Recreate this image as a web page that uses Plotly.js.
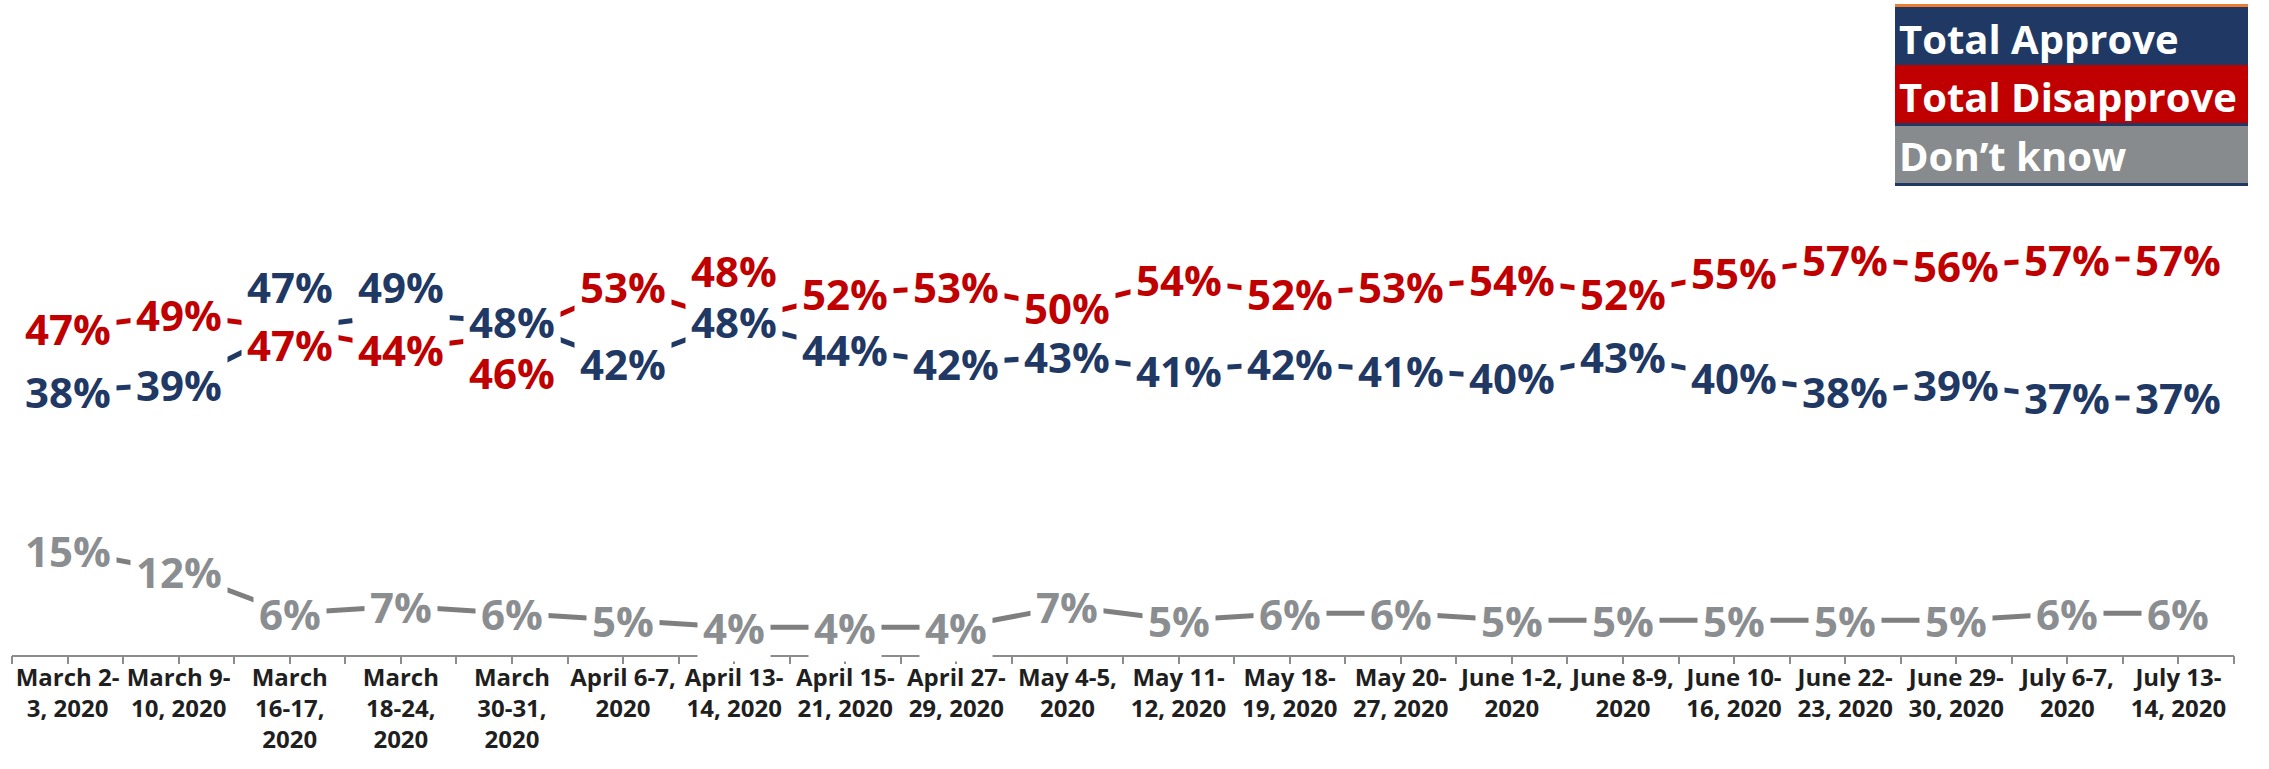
<!DOCTYPE html>
<html>
<head>
<meta charset="utf-8">
<script src="https://cdn.plot.ly/plotly-3.0.1.min.js"></script>
<style>html,body{margin:0;padding:0;background:#fff;}#chart{width:2269px;height:769px;}</style>
</head>
<body>
<div id="chart"></div>
<script>
const categories = ["March 2-3, 2020","March 9-10, 2020","March 16-17, 2020","March 18-24, 2020","March 30-31, 2020","April 6-7, 2020","April 13-14, 2020","April 15-21, 2020","April 27-29, 2020","May 4-5, 2020","May 11-12, 2020","May 18-19, 2020","May 20-27, 2020","June 1-2, 2020","June 8-9, 2020","June 10-16, 2020","June 22-23, 2020","June 29-30, 2020","July 6-7, 2020","July 13-14, 2020"];
const tickLabels = ["March 2-<br>3, 2020","March 9-<br>10, 2020","March<br>16-17,<br>2020","March<br>18-24,<br>2020","March<br>30-31,<br>2020","April 6-7,<br>2020","April 13-<br>14, 2020","April 15-<br>21, 2020","April 27-<br>29, 2020","May 4-5,<br>2020","May 11-<br>12, 2020","May 18-<br>19, 2020","May 20-<br>27, 2020","June 1-2,<br>2020","June 8-9,<br>2020","June 10-<br>16, 2020","June 22-<br>23, 2020","June 29-<br>30, 2020","July 6-7,<br>2020","July 13-<br>14, 2020"];
const approve    = [38,39,47,49,48,42,48,44,42,43,41,42,41,40,43,40,38,39,37,37];
const disapprove = [47,49,47,44,46,53,48,52,53,50,54,52,53,54,52,55,57,56,57,57];
const dontKnow   = [15,12,6,7,6,5,4,4,4,7,5,6,6,5,5,5,5,5,6,6];
const seriesNames = ["Total Approve","Total Disapprove","Don\u2019t know"];

// styling
const NAVY = "#1F3864", RED = "#C00000", GRAY_LINE = "#7F7F7F", GRAY_TEXT = "#8B8E90", LEG_GRAY = "#888B8D";
// manual label nudges (px, positive = up), as placed in the original
const labelNudge = {
  approve: {2: 42, 3: 28},
  disapprove: {2: -16, 4: -37, 6: 51}
};

const W = 2269, H = 769;
const M = {l: 12, r: 35, t: 2, b: 114};
const px2x = p => (p - M.l) / (W - M.l - M.r);
const px2y = p => (H - M.b - p) / (H - M.t - M.b);

function lineTrace(vals, color, name) {
  return {x: categories, y: vals, type: 'scatter', mode: 'lines', name: name,
          line: {color: color, width: 5}, hoverinfo: 'skip', showlegend: false};
}
const traces = [
  lineTrace(approve, NAVY, seriesNames[0]),
  lineTrace(disapprove, RED, seriesNames[1]),
  lineTrace(dontKnow, GRAY_LINE, seriesNames[2]),
  {x: [0], y: [0], xaxis: 'x2', yaxis: 'y', type: 'scatter', mode: 'markers', marker: {opacity: 0}, hoverinfo: 'skip', showlegend: false}
];

const annotations = [];
function addLabels(vals, color, nudge) {
  vals.forEach((v, i) => {
    annotations.push({x: categories[i], y: v, xref: 'x', yref: 'y', text: v + '%', showarrow: false,
      bgcolor: '#ffffff', borderpad: 5, yshift: (nudge && nudge[i]) || 0,
      font: {family: 'Open Sans', size: 42, color: color, weight: 700}});
  });
}
addLabels(dontKnow, GRAY_TEXT, null);
addLabels(approve, NAVY, labelNudge.approve);
addLabels(disapprove, RED, labelNudge.disapprove);

// legend box (top right)
const LX0 = 1895, LX1 = 2248;
const shapes = [
  {type: 'rect', xref: 'paper', yref: 'paper', x0: px2x(LX0), x1: px2x(LX1), y0: px2y(7), y1: px2y(4), fillcolor: '#ED7D31', line: {width: 0}},
  {type: 'rect', xref: 'paper', yref: 'paper', x0: px2x(LX0), x1: px2x(LX1), y0: px2y(65), y1: px2y(7), fillcolor: NAVY, line: {width: 0}},
  {type: 'rect', xref: 'paper', yref: 'paper', x0: px2x(LX0), x1: px2x(LX1), y0: px2y(123), y1: px2y(65), fillcolor: RED, line: {width: 0}},
  {type: 'rect', xref: 'paper', yref: 'paper', x0: px2x(LX0), x1: px2x(LX1), y0: px2y(126), y1: px2y(123), fillcolor: NAVY, line: {width: 0}},
  {type: 'rect', xref: 'paper', yref: 'paper', x0: px2x(LX0), x1: px2x(LX1), y0: px2y(183), y1: px2y(126), fillcolor: LEG_GRAY, line: {width: 0}},
  {type: 'rect', xref: 'paper', yref: 'paper', x0: px2x(LX0), x1: px2x(LX1), y0: px2y(186), y1: px2y(183), fillcolor: NAVY, line: {width: 0}}
];
const legendRowsY = [38, 96, 156];
seriesNames.forEach((n, i) => {
  annotations.push({xref: 'paper', yref: 'paper', x: px2x(1897), y: px2y(legendRowsY[i]), xanchor: 'left', yanchor: 'middle',
    text: n, showarrow: false, font: {family: 'Open Sans', size: 40, color: '#ffffff', weight: 700}});
});

const layout = {
  width: W, height: H, margin: M, paper_bgcolor: '#fff', plot_bgcolor: '#fff', showlegend: false,
  xaxis: {type: 'category', range: [-0.5, 19.5], tickvals: categories, ticktext: tickLabels, ticks: '', tickangle: 0,
    showline: true, linecolor: '#8C8C8C', linewidth: 2, showgrid: false, zeroline: false,
    tickfont: {family: 'Open Sans', size: 24, color: '#1F1F1F', weight: 700}, automargin: false},
  xaxis2: {overlaying: 'x', anchor: 'y', side: 'bottom', type: 'linear', range: [-0.5, 19.5], tick0: -0.5, dtick: 0.5,
    ticks: 'outside', ticklen: 8, tickwidth: 2, tickcolor: '#8C8C8C', showticklabels: false, showgrid: false, zeroline: false, showline: false},
  yaxis: {range: [0, 94], visible: false, showgrid: false, zeroline: false},
  annotations: annotations, shapes: shapes
};
Plotly.newPlot('chart', traces, layout, {displayModeBar: false, staticPlot: true});
</script>
</body>
</html>
